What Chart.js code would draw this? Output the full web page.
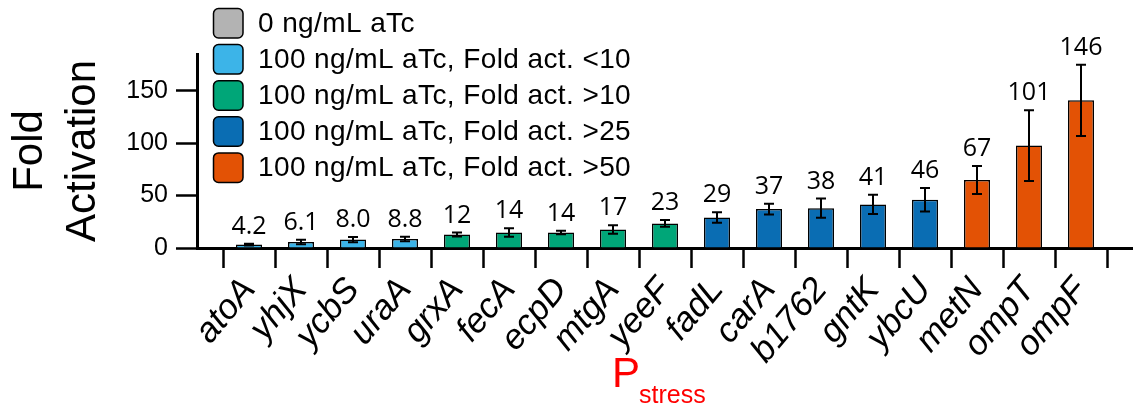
<!DOCTYPE html>
<html>
<head>
<meta charset="utf-8">
<script src="https://cdn.jsdelivr.net/npm/chart.js@4.4.1/dist/chart.umd.min.js"></script>
<style>
    html, body { margin: 0; padding: 0; background: #ffffff; }
</style>
</head>
<body>
<canvas id="chart" width="1133" height="409"></canvas>
<script>
// Promoter names (x axis)
var categories = ["atoA", "yhjX", "ycbS", "uraA", "grxA", "fecA", "ecpD", "mtgA", "yeeF",
                  "fadL", "carA", "b1762", "gntK", "ybcU", "metN", "ompT", "ompF"];

// Bar heights and error bar half-widths (fold activation, 100 ng/mL aTc)
var fold_values = [3.3, 5.7, 8.0, 8.6, 12.8, 14.8, 14.8, 17.6, 23.4,
                   29.1, 37.1, 38.0, 41.6, 46.0, 64.8, 97.7, 140.8];
var fold_errors = [0.8, 2.2, 2.4, 2.2, 1.9, 4.0, 1.6, 4.0, 3.2,
                   5.1, 5.1, 9.1, 9.2, 11.2, 13.4, 33.7, 34.0];

// Printed numbers above each bar
var value_labels = ["4.2", "6.1", "8.0", "8.8", "12", "14", "14", "17", "23",
                    "29", "37", "38", "41", "46", "67", "101", "146"];

// Legend groups, and which group each bar belongs to
var group_names = ["0 ng/mL aTc", "100 ng/mL aTc, Fold act. <10", "100 ng/mL aTc, Fold act. >10",
                   "100 ng/mL aTc, Fold act. >25", "100 ng/mL aTc, Fold act. >50"];
var group_colors = ["#b3b3b3", "#3cb4e8", "#00a678", "#0a6db3", "#e35205"];
var bar_groups = [1, 1, 1, 1, 2, 2, 2, 2, 2, 3, 3, 3, 3, 3, 4, 4, 4];

var y_ticks = [0, 50, 100, 150];
var y_max = 185;

var sans = "'Liberation Sans', Arial, Helvetica, sans-serif";
var label_font = "'Open Sans', 'Noto Sans', sans-serif";

// Pad one empty slot on each side so the axis runs half a gap past the outer ticks
var x_labels = [""].concat(categories, [""]);
var bar_data = [null].concat(fold_values, [null]);
var bar_colors = ["#fff"].concat(bar_groups.map(function (g) { return group_colors[g]; }), ["#fff"]);

var error_bars = {
    id: "error_bars",
    afterDatasetsDraw: function (chart) {
        var ctx = chart.ctx;
        var y_scale = chart.scales.y;
        var meta = chart.getDatasetMeta(0);

        ctx.save();
        ctx.strokeStyle = "#000";
        ctx.lineWidth = 2;

        for (var i = 0; i < fold_values.length; i++) {
            var x = meta.data[i + 1].x;
            var top = y_scale.getPixelForValue(fold_values[i] + fold_errors[i]);
            var bottom = y_scale.getPixelForValue(fold_values[i] - fold_errors[i]);

            ctx.beginPath();
            ctx.moveTo(x, top);
            ctx.lineTo(x, bottom);
            ctx.moveTo(x - 5, top);
            ctx.lineTo(x + 5, top);
            ctx.moveTo(x - 5, bottom);
            ctx.lineTo(x + 5, bottom);
            ctx.stroke();
        }

        // Numbers above the error bars
        ctx.fillStyle = "#000";
        ctx.font = "25px " + label_font;
        ctx.textAlign = "center";
        ctx.textBaseline = "alphabetic";

        for (var j = 0; j < value_labels.length; j++) {
            var lx = meta.data[j + 1].x;
            var ly = y_scale.getPixelForValue(fold_values[j] + fold_errors[j]) - 10;

            ctx.fillText(value_labels[j], lx, ly);
        }

        ctx.restore();
    }
};

var box_legend = {
    id: "box_legend",
    afterDraw: function (chart) {
        var ctx = chart.ctx;

        ctx.save();
        ctx.font = "28px " + sans;
        ctx.letterSpacing = "0.4px";
        ctx.textBaseline = "middle";
        ctx.textAlign = "left";

        for (var i = 0; i < group_names.length; i++) {
            var top = 8 + i * 36.1;

            ctx.beginPath();
            ctx.roundRect(213.5, top + 0.5, 29.5, 29.5, 5);
            ctx.fillStyle = group_colors[i];
            ctx.fill();
            ctx.lineWidth = 1.5;
            ctx.strokeStyle = "#000";
            ctx.stroke();

            ctx.fillStyle = "#000";
            ctx.fillText(group_names[i], 258, top + 16);
        }

        ctx.restore();
    }
};

var x_title = {
    id: "x_title",
    afterDraw: function (chart) {
        var ctx = chart.ctx;
        var area = chart.chartArea;
        var cx = (area.left + area.right) / 2 - 53;

        ctx.save();
        ctx.fillStyle = "#ff0000";
        ctx.textAlign = "left";
        ctx.textBaseline = "alphabetic";
        ctx.font = "42px " + sans;
        ctx.fillText("P", cx, 387);
        ctx.font = "25px " + sans;
        ctx.fillText("stress", cx + 27, 403);
        ctx.restore();
    }
};

new Chart(document.getElementById("chart"), {
    type: "bar",
    data: {
        labels: x_labels,
        datasets: [{
            label: "100 ng/mL aTc",
            data: bar_data,
            backgroundColor: bar_colors,
            borderColor: "#000",
            borderWidth: 1.5,
            barPercentage: 0.5,
            categoryPercentage: 1.0
        }]
    },
    options: {
        responsive: false,
        animation: false,
        devicePixelRatio: 1,
        layout: {
            padding: {"top": 54, "left": 0, "right": 0, "bottom": 0}
        },
        scales: {
            x: {
                type: "category",
                offset: false,
                grid: {
                    offset: true,
                    drawOnChartArea: false,
                    tickLength: 20,
                    tickWidth: 2.5,
                    color: "#000"
                },
                border: {"color": "#000", "width": 3},
                ticks: {
                    autoSkip: false,
                    maxRotation: 50,
                    minRotation: 50,
                    padding: 2,
                    labelOffset: 0,
                    color: "#000",
                    font: {"family": sans, "size": 35, "style": "italic"}
                },
                afterFit: function (scale) {
                    scale.height = 161;
                    // the axis runs to the canvas edge, no room kept for the rotated end labels
                    scale.paddingLeft = 0;
                    scale.paddingRight = 0;
                }
            },
            y: {
                min: 0,
                max: y_max,
                grid: {
                    drawOnChartArea: false,
                    tickLength: 21,
                    tickWidth: 2.5,
                    color: "#000"
                },
                border: {"color": "#000", "width": 3},
                ticks: {
                    padding: 8,
                    color: "#000",
                    font: {"family": sans, "size": 25}
                },
                afterBuildTicks: function (scale) {
                    scale.ticks = y_ticks.map(function (v) { return {"value": v}; });
                },
                afterFit: function (scale) {
                    scale.width = 197;
                },
                title: {
                    display: true,
                    text: ["Fold", "Activation"],
                    color: "#000",
                    font: {"family": sans, "size": 42, "lineHeight": 1.26},
                    padding: {"top": 4, "bottom": 0}
                }
            }
        },
        plugins: {
            legend: {"display": false},
            tooltip: {"enabled": false}
        }
    },
    plugins: [error_bars, box_legend, x_title]
});
</script>
</body>
</html>
